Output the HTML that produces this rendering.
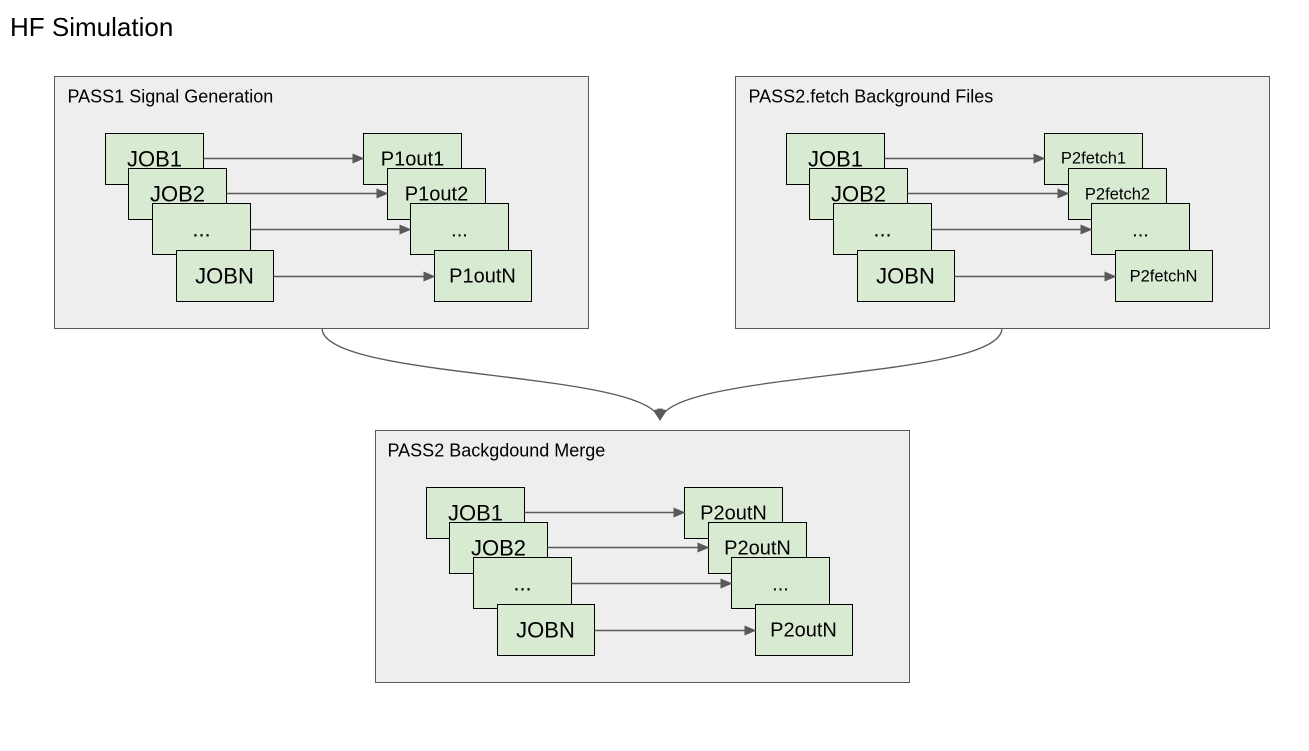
<!DOCTYPE html>
<html><head><style>
body{margin:0;background:#fff;width:1309px;height:746px;overflow:hidden;font-family:"Liberation Sans",sans-serif}
</style></head><body>
<svg width="1309" height="746" xmlns="http://www.w3.org/2000/svg" font-family="Liberation Sans, sans-serif">
<defs>
<marker id="a" markerWidth="12" markerHeight="10" refX="11" refY="5" orient="auto" markerUnits="userSpaceOnUse">
<path d="M0,0 L12,5 L0,10 z" fill="#595959"/></marker>
<g id="grp">
<rect x="0" y="0" width="534" height="252" fill="#eeeeee" stroke="#595959" stroke-width="1"/>
<g stroke="#000" stroke-width="1" fill="#d9ead3">
<rect x="51" y="57" width="98" height="51"/>
<rect x="74" y="92" width="98" height="51"/>
<rect x="98" y="127" width="98" height="51"/>
<rect x="122" y="174" width="97" height="51"/>
<rect x="309" y="57" width="98" height="51"/>
<rect x="333" y="92" width="98" height="51"/>
<rect x="356" y="127" width="98" height="51"/>
<rect x="380" y="174" width="97" height="51"/>
</g>
<g stroke="#595959" stroke-width="1.5" marker-end="url(#a)">
<line x1="149" y1="82" x2="309" y2="82"/>
<line x1="172" y1="117" x2="333" y2="117"/>
<line x1="196" y1="153" x2="356" y2="153"/>
<line x1="219" y1="200" x2="380" y2="200"/>
</g>
<g font-size="22" text-anchor="middle" fill="#000">
<text x="100" y="90">JOB1</text>
<text x="123" y="125">JOB2</text>
<text x="147" y="160">...</text>
<text x="170" y="207">JOBN</text>
</g>
</g>
</defs>
<text x="10" y="36" font-size="26" fill="#000">HF Simulation</text>

<g transform="translate(54.5,76.5)"><use href="#grp"/>
<text x="13" y="26" font-size="18">PASS1 Signal Generation</text>
<g font-size="20" text-anchor="middle">
<text x="358" y="89">P1out1</text><text x="382" y="124">P1out2</text><text x="405" y="160">...</text><text x="428" y="206">P1outN</text></g>
</g>

<g transform="translate(735.5,76.5)"><use href="#grp"/>
<text x="13" y="26" font-size="18">PASS2.fetch Background Files</text>
<g font-size="16.5" text-anchor="middle">
<text x="358" y="87">P2fetch1</text><text x="382" y="123">P2fetch2</text><text x="405" y="160" font-size="20">...</text><text x="428" y="205">P2fetchN</text></g>
</g>

<g transform="translate(375.5,430.5)"><use href="#grp"/>
<text x="12" y="26" font-size="18">PASS2 Backgdound Merge</text>
<g font-size="20" text-anchor="middle">
<text x="358" y="89">P2outN</text><text x="382" y="124">P2outN</text><text x="405" y="160">...</text><text x="428" y="206">P2outN</text></g>
</g>

<g fill="none" stroke="#595959" stroke-width="1.3">
<path d="M322,328 C322,380 650,370 660,420" marker-end="url(#a)"/>
<path d="M1002,328 C1002,380 670,370 660,420" marker-end="url(#a)"/>
</g>
</svg>
</body></html>
